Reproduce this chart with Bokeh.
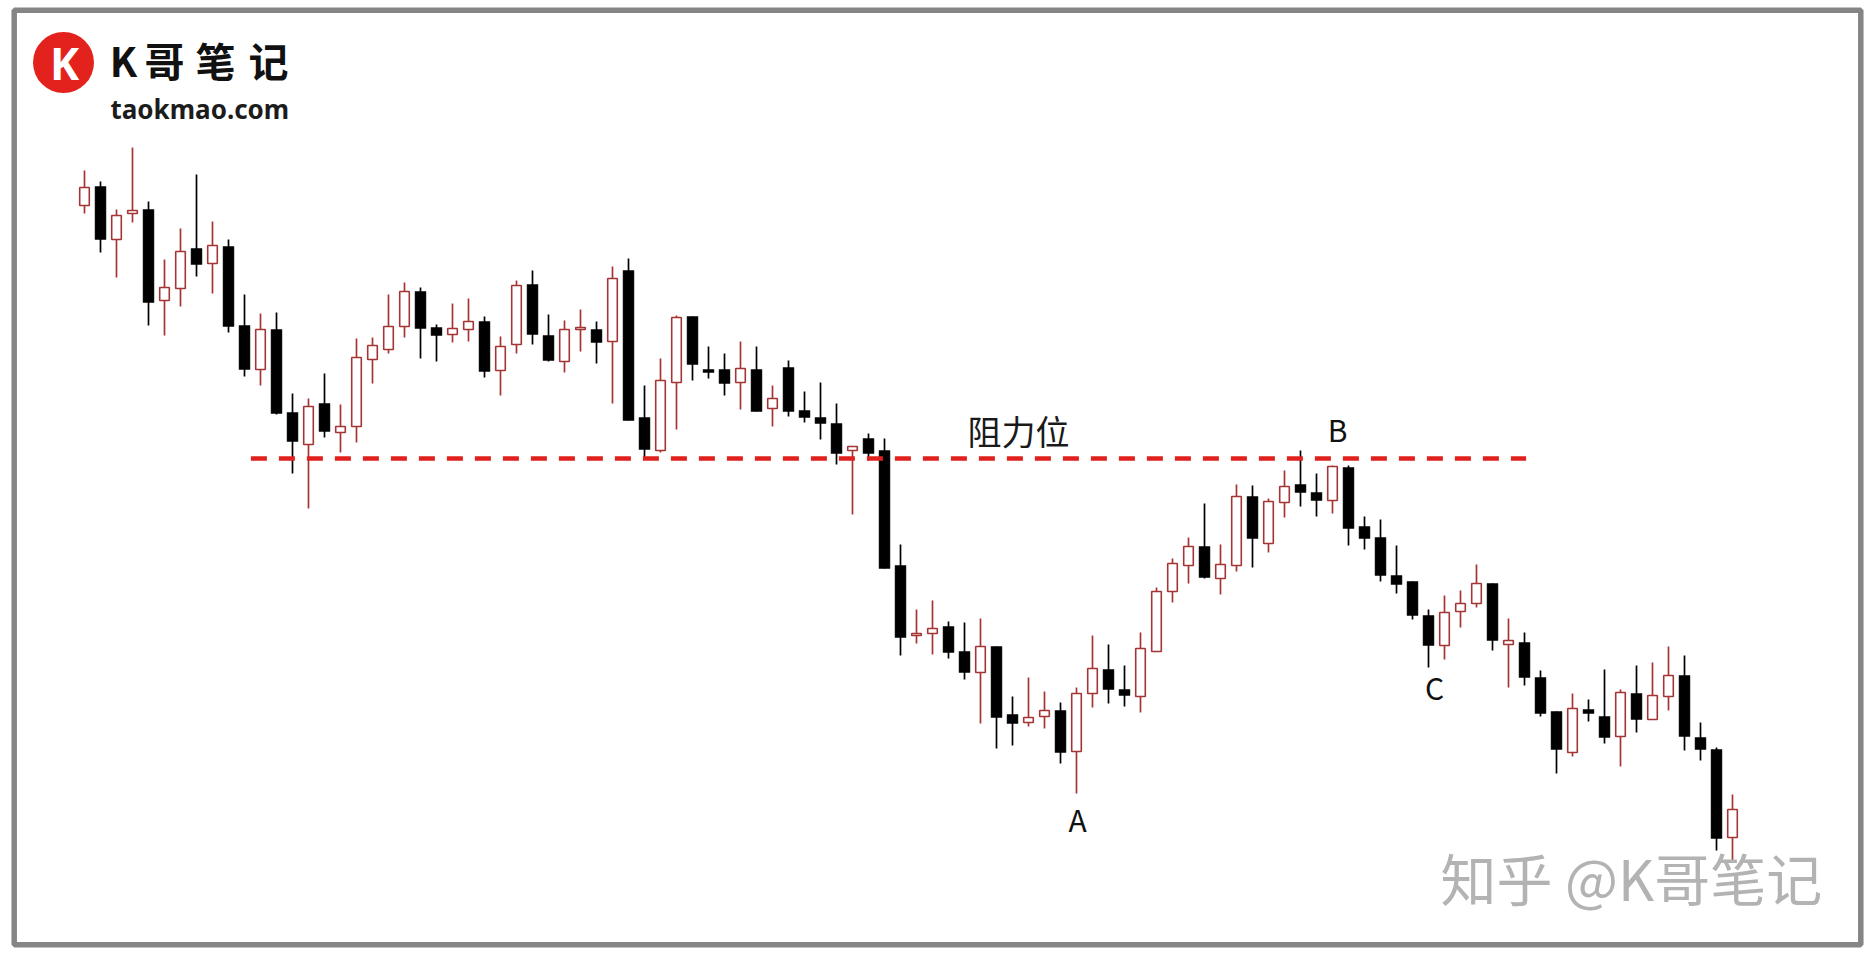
from bokeh.plotting import figure
from bokeh.models import Range1d, ColumnDataSource
from bokeh.core.properties import value
from bokeh.embed import file_html
from bokeh.resources import INLINE

# ---------------- data ----------------
opens = [795, 814, 761, 787, 791, 700, 712, 752, 737, 754,
         675, 631, 671, 588, 556, 597, 568, 574, 641, 651,
         674, 709, 673, 666, 671, 679, 630, 656, 716, 665,
         639, 671, 671, 659, 730, 583, 550, 618, 684, 631,
         631, 618, 631, 592, 633, 590, 583, 577, 550, 562,
         550, 435, 365, 367, 374, 349, 328, 354, 286, 278,
         284, 290, 249, 307, 331, 311, 304, 349, 409, 435,
         454, 422, 435, 504, 457, 498, 516, 508, 500, 533,
         474, 463, 425, 419, 385, 355, 389, 397, 417, 356,
         358, 323, 289, 248, 291, 284, 264, 307, 281, 304,
         325, 263, 251, 163]
highs = [830, 819, 791, 853, 799, 741, 772, 826, 779, 761,
         706, 687, 688, 607, 602, 627, 596, 662, 663, 706,
         718, 713, 676, 697, 702, 684, 664, 720, 730, 686,
         680, 691, 679, 734, 742, 615, 642, 685, 684, 654,
         647, 659, 654, 615, 640, 609, 618, 597, 554, 567,
         562, 456, 391, 400, 379, 378, 382, 354, 304, 323,
         309, 298, 313, 365, 356, 335, 368, 413, 442, 463,
         497, 456, 516, 515, 502, 530, 550, 527, 535, 535,
         484, 481, 455, 419, 391, 405, 410, 436, 417, 382,
         368, 330, 289, 307, 301, 331, 311, 335, 338, 354,
         345, 278, 253, 206]
lows = [787, 748, 723, 778, 675, 665, 694, 724, 707, 668,
        624, 615, 586, 527, 492, 563, 548, 558, 617, 647,
        663, 642, 639, 658, 659, 623, 605, 647, 656, 639,
        628, 649, 637, 597, 580, 542, 548, 571, 620, 622,
        605, 591, 589, 574, 584, 578, 561, 536, 486, 540,
        432, 345, 357, 346, 342, 321, 277, 252, 255, 274,
        272, 237, 207, 293, 297, 294, 288, 349, 398, 417,
        422, 406, 429, 433, 448, 483, 494, 484, 487, 455,
        451, 419, 407, 381, 333, 341, 373, 393, 350, 313,
        315, 284, 227, 244, 279, 257, 234, 268, 281, 290,
        250, 240, 150, 140]
closes = [813, 761, 785, 790, 698, 713, 749, 736, 755, 674,
          631, 671, 587, 559, 594, 569, 574, 643, 655, 674,
          709, 672, 665, 672, 679, 629, 654, 715, 666, 640,
          671, 673, 658, 722, 580, 551, 620, 683, 636, 628,
          617, 632, 589, 602, 589, 583, 577, 547, 554, 547,
          432, 363, 367, 372, 348, 328, 354, 283, 277, 283,
          290, 248, 307, 332, 311, 305, 352, 409, 437, 454,
          423, 436, 504, 462, 499, 514, 508, 500, 534, 472,
          462, 425, 416, 385, 355, 388, 397, 417, 360, 360,
          323, 287, 251, 292, 287, 263, 308, 281, 305, 325,
          264, 251, 162, 191]

resistance_level = 542
resistance_from, resistance_to = 11.4, 91.1   # candle index span of the dashed line

point_labels = ["A", "B", "C"]
title_text = "阻力位"

# ---------------- geometry helpers (page pixel -> data) ----------------
W, H = 1871, 955
def xd(px):
    return 1 + (px - 84) / 16.0
def yd(py):
    return 1000 - py

idx = list(range(1, len(opens) + 1))
up = [c >= o for o, c in zip(opens, closes)]
RED = "#a53535"

p = figure(width=W, height=H, output_backend="svg", toolbar_location=None,
           x_range=Range1d(xd(0), xd(W)), y_range=Range1d(yd(H), yd(0)),
           x_axis_location=None, y_axis_location=None, min_border=0,
           background_fill_color="white", border_fill_color="white")
p.grid.visible = False
p.outline_line_color = None

# wicks
wick_src = ColumnDataSource(dict(x=idx, lo=lows, hi=highs,
                                 c=[RED if u else "black" for u in up]))
p.segment(x0="x", y0="lo", x1="x", y1="hi", line_color="c", line_width=1.7, source=wick_src)

# bearish bodies
bx = [i for i, u in zip(idx, up) if not u]
btop = [o for o, u in zip(opens, up) if not u]
bbot = [c for c, u in zip(closes, up) if not u]
p.vbar(x=bx, top=btop, bottom=bbot, width=0.68, fill_color="black", line_color="black", line_width=0.5)

# bullish bodies (hollow)
ux = [i for i, u in zip(idx, up) if u]
utop = [c for c, u in zip(closes, up) if u]
ubot = [o for o, u in zip(opens, up) if u]
p.vbar(x=ux, top=utop, bottom=ubot, width=0.6, fill_color="white", line_color=RED, line_width=1.6)

# resistance line
p.line(x=[resistance_from, resistance_to], y=[resistance_level, resistance_level],
       line_color="#e0201c", line_width=4.5, line_dash="16 12", line_cap="butt")

# texts
cjk = value("Noto Sans CJK SC")
p.text(x=[xd(967)], y=[yd(430)], text=[title_text], text_font=cjk, text_font_size="34px",
       text_align="left", text_baseline="middle", text_color="#1a1a1a")
p.text(x=[xd(1077), xd(1337), xd(1434)], y=[yd(818), yd(428), yd(686)], text=point_labels,
       text_font=cjk, text_font_size="30px", text_align="center", text_baseline="alphabetic",
       text_color="#111111")

# logo
p.scatter(x=[xd(63)], y=[yd(62)], size=61, marker="circle", fill_color="#e3221e", line_color=None)
p.text(x=[xd(64)], y=[yd(62)], text=["K"], text_font=value("Noto Sans"), text_font_style="bold",
       text_font_size="44px", text_align="center", text_baseline="middle", text_color="white")
p.text(x=[xd(123), xd(164), xd(215), xd(268)], y=[yd(59)] * 4, text=["K", "哥", "笔", "记"],
       text_font=cjk, text_font_style="bold", text_font_size="40px",
       text_align="center", text_baseline="middle", text_color="#111111")
p.text(x=[xd(110)], y=[yd(108)], text=["taokmao.com"], text_font=value("Noto Sans"),
       text_font_style="bold", text_font_size="26px", text_align="left",
       text_baseline="alphabetic", text_color="#1c1c1c")

# watermark
p.text(x=[xd(1440)], y=[yd(876)], text=["知乎 @K哥笔记"], text_font=cjk, text_font_size="56px",
       text_align="left", text_baseline="middle", text_color="#b3b3b3")

# frame border
p.quad(left=[xd(13.7)], right=[xd(1860.3)], top=[yd(9.8)], bottom=[yd(944.2)],
       fill_color=None, line_color="#858585", line_width=5.5)

open("out.html", "w").write(file_html(p, INLINE))
